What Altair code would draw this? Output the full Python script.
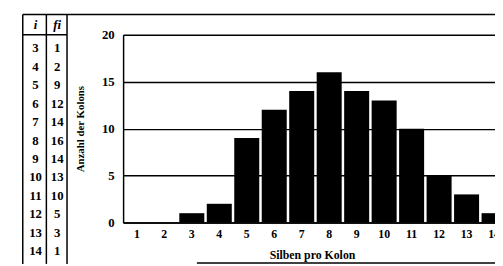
import altair as alt
import pandas as pd

# ---- data ----
silben = list(range(1, 15))                       # x categories (tick labels)
i_vals = [3, 4, 5, 6, 7, 8, 9, 10, 11, 12, 13, 14]  # table column i
fi_vals = [1, 2, 9, 12, 14, 16, 14, 13, 10, 5, 3, 1]  # table column fi
y_ticks = [0, 5, 10, 15, 20]
header = ["i", "fi"]

counts = {s: 0 for s in silben}
for a, b in zip(i_vals, fi_vals):
    counts[a] = b
bar_df = pd.DataFrame({"silben": silben, "anzahl": [counts[s] for s in silben]})

tbl = pd.DataFrame({
    "row": i_vals + i_vals,
    "col": ["i"] * len(i_vals) + ["fi"] * len(fi_vals),
    "val": [str(v) for v in i_vals] + [str(v) for v in fi_vals],
})
hdr = pd.DataFrame({"col": header})
one = pd.DataFrame({"a": [0]})

SERIF = "Liberation Serif"

bars = alt.Chart(bar_df).mark_bar(color="black").encode(
    x=alt.X("silben:O",
            scale=alt.Scale(domain=silben, range=[0, 391], paddingInner=0.09, paddingOuter=0.045),
            axis=alt.Axis(title="Silben pro Kolon", labelAngle=0, ticks=False, grid=False,
                          domainColor="black", domainWidth=1.5, labelPadding=6,
                          labelFont=SERIF, labelFontWeight="bold", labelFontSize=12, labelColor="black",
                          titleFont=SERIF, titleFontWeight="bold", titleFontSize=12, titleColor="black",
                          titleX=192, titleY=37, titleBaseline="alphabetic", titleAlign="center")),
    y=alt.Y("anzahl:Q",
            scale=alt.Scale(domain=[0, 20], nice=False),
            axis=alt.Axis(values=y_ticks, title="Anzahl der Kolons", ticks=False, grid=True,
                          gridColor="black", gridWidth=1.5, gridOpacity=1,
                          domainColor="black", domainWidth=1.5, labelPadding=9,
                          labelFont=SERIF, labelFontWeight="bold", labelFontSize=13, labelColor="black",
                          titleFont="Liberation Sans Narrow", titleFontWeight="bold", titleFontSize=11,
                          titleColor="black", titleX=-43, titleY=95.5, titleAngle=270,
                          titleBaseline="middle", titleAlign="center")),
)

col_scale = alt.Scale(domain=header, range=[-89, -67], padding=0)

table_body = alt.Chart(tbl).mark_text(font=SERIF, fontWeight="bold", fontSize=13, color="black").encode(
    x=alt.X("col:N", scale=col_scale, axis=None),
    y=alt.Y("row:O", scale=alt.Scale(range=[14, 220], padding=0), axis=None),
    text="val:N",
)
table_head = alt.Chart(hdr).mark_text(font=SERIF, fontWeight="bold", fontStyle="italic",
                                      fontSize=13, color="black").encode(
    x=alt.X("col:N", scale=col_scale, axis=None),
    y=alt.value(-10),
    text="col:N",
)
table = alt.layer(table_body, table_head)

def hrule(x1, x2, y, w=1.5):
    return alt.Chart(one).mark_rule(color="black", strokeWidth=w).encode(
        x=alt.value(x1), x2=alt.value(x2), y=alt.value(y))

def vrule(x, y1, y2, w=1.5):
    return alt.Chart(one).mark_rule(color="black", strokeWidth=w).encode(
        x=alt.value(x), y=alt.value(y1), y2=alt.value(y2))

frame = alt.layer(
    hrule(-102, 378, -20.5),
    hrule(-102, -57, 0),
    vrule(-102, -20.5, 233),
    vrule(-78, -20.5, 233),
    vrule(-57, -20.5, 233),
    hrule(75, 378, 232),
)

chart = alt.layer(bars, table, frame).resolve_scale(
    x="independent", y="independent"
).properties(
    width=378, height=191,
    autosize=alt.AutoSizeParams(type="none"),
    padding={"left": 117, "top": 25, "right": 0, "bottom": 42},
).configure_view(stroke=None)

chart.save("out.html", embed_options={"renderer": "svg", "actions": False})
